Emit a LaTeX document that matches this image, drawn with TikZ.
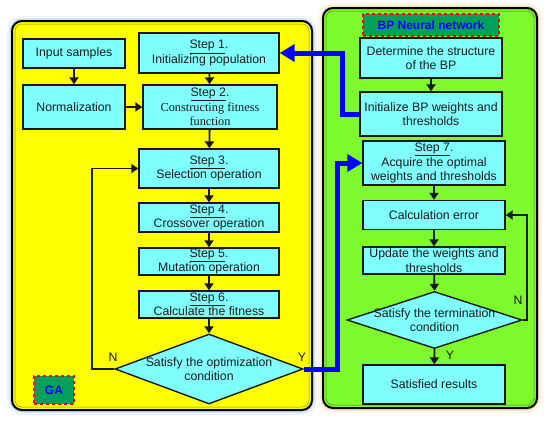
\documentclass[tikz,border=0pt]{standalone}
\usepackage{fontspec}
\setmainfont{Liberation Sans}
\newfontfamily\timesfont{Liberation Serif}
\usetikzlibrary{arrows.meta, shapes.geometric}
\definecolor{panelyellow}{RGB}{255, 255, 0}
\definecolor{panelgreen}{RGB}{125, 250, 45}
\definecolor{boxcyan}{RGB}{128, 255, 255}
\definecolor{tagteal}{RGB}{0, 160, 90}
\definecolor{flowblue}{RGB}{0, 0, 255}
\definecolor{inkdark}{RGB}{25, 25, 25}
\definecolor{glowblue}{RGB}{165, 200, 240}
\definecolor{gloworange}{RGB}{250, 205, 145}
% panel: x1, y1, x2, y2, fill, glow
\newcommand{\drawpanel}[6]{
    \draw[#6, line width=10pt, opacity=0.2, rounded corners=10pt] (#1, #2) rectangle (#3, #4);
    \draw[#6, line width=5pt, opacity=0.5, rounded corners=10pt] (#1, #2) rectangle (#3, #4);
    \draw[fill=#5, line width=2pt, rounded corners=10pt] (#1, #2) rectangle (#3, #4);
    \draw[#5!55!black, line width=0.5pt, rounded corners=7pt] (#1+3, #2+3) rectangle (#3-3, #4-3);
}

\begin{document}
\begin{tikzpicture}[x=1pt, y=-1pt, font=\fontsize{12.3}{14.5}\selectfont,
    box/.style={draw=inkdark, line width=1.4pt, fill=boxcyan, text=inkdark, align=center, inner sep=0pt},
    decision/.style={draw=inkdark, diamond, line width=1.4pt, fill=boxcyan, inner sep=0pt},
    arr/.style={-{Triangle[length=7pt, width=9pt]}, line width=1.8pt, inkdark},
    bluearr/.style={-{Triangle[length=15pt, width=17pt]}, line width=5pt, flowblue},
    tag/.style={draw=red, dashed, line width=1.5pt, fill=tagteal, text=flowblue, font=\bfseries\fontsize{12}{14}\selectfont}]
    \useasboundingbox (0, 0) rectangle (550, 421);

    % ----------------------------------------------------
    % Panels
    % ----------------------------------------------------
    \drawpanel{12}{21}{312}{410}{panelyellow}{glowblue}
    \drawpanel{323}{8}{537}{408}{panelgreen}{gloworange}

    \node[tag, minimum width=40pt, minimum height=28pt] (gatag) at (54, 390) {GA};
    \node[tag, minimum width=136pt, minimum height=22pt] (bptag) at (431, 25) {BP Neural network};

    % ----------------------------------------------------
    % GA side
    % ----------------------------------------------------
    \node[box, minimum width=102pt, minimum height=29pt] (inp) at (74, 53.5) {Input samples};
    \node[box, minimum width=102pt, minimum height=44pt] (norm) at (74, 107) {Normalization};
    \node[box, minimum width=140pt, minimum height=40pt] (s1) at (209, 53) {\underline{Step 1}.\\Initializing population};
    \node[box, minimum width=134pt, minimum height=44pt] (s2) at (210, 107) {\underline{Step 2}.\\{\timesfont Constructing fitness}\\{\timesfont function}};
    \node[box, minimum width=140pt, minimum height=39pt] (s3) at (209, 168.5) {\underline{Step 3}.\\Selection operation};
    \node[box, minimum width=140pt, minimum height=29pt] (s4) at (209, 217.5) {\underline{Step 4}.\\Crossover operation};
    \node[box, minimum width=140pt, minimum height=27pt] (s5) at (209, 261.5) {\underline{Step 5}.\\Mutation operation};
    \node[box, minimum width=140pt, minimum height=27pt] (s6) at (209, 304.5) {\underline{Step 6}.\\Calculate the fitness};
    \node[decision, minimum width=188pt, minimum height=70pt] (opt) at (209, 369) {};
    \node[align=center, text=inkdark] (optlbl) at (opt.center) {Satisfy the optimization\\condition};

    \draw[arr] (inp) -- (norm);
    \draw[arr] (norm) -- (s2);
    \draw[arr] (s1) -- (s2);
    \draw[arr] (s2) -- (s3);
    \draw[arr] (s3) -- (s4);
    \draw[arr] (s4) -- (s5);
    \draw[arr] (s5) -- (s6);
    \draw[arr] (s6) -- (opt.north);

    % N loop back to selection
    \coordinate (nloop) at (92, 0);
    \draw[arr] (opt.west) -- (opt.west -| nloop) |- (s3.west);
    \node[text=inkdark] (nleft) at (113, 357) {N};

    % ----------------------------------------------------
    % BP side
    % ----------------------------------------------------
    \node[box, minimum width=142pt, minimum height=40pt] (det) at (431, 58) {Determine the structure\\of the BP};
    \node[box, minimum width=142pt, minimum height=44pt] (ini) at (431, 114) {Initialize BP weights and\\thresholds};
    \node[box, minimum width=142pt, minimum height=44pt] (s7) at (434, 163) {\underline{Step 7}.\\Acquire the optimal\\weights and thresholds};
    \node[box, minimum width=142pt, minimum height=29pt] (calc) at (434, 215) {Calculation error};
    \node[box, minimum width=142pt, minimum height=27pt] (upd) at (434, 260.5) {Update the weights and\\thresholds};
    \node[decision, minimum width=175pt, minimum height=57pt] (term) at (434.5, 320) {};
    \node[align=center, text=inkdark] (termlbl) at (term.center) {Satisfy the termination\\condition};
    \node[box, minimum width=142pt, minimum height=39pt] (sat) at (434, 384.5) {Satisfied results};

    \draw[arr] (det) -- (ini);
    \draw[arr] (s7) -- (calc);
    \draw[arr] (calc) -- (upd);
    \draw[arr] (upd) -- (term.north);
    \draw[arr] (term.south) -- (sat);

    % N loop back to error
    \coordinate (rloop) at (527, 0);
    \draw[arr] (term.east) -- (term.east -| rloop) |- (calc.east);
    \node[text=inkdark] (nright) at (518, 300) {N};
    \node[text=inkdark] (yright) at (450, 355) {Y};

    % ----------------------------------------------------
    % Links between GA and BP
    % ----------------------------------------------------
    \coordinate (upx) at (342, 0);
    \draw[bluearr] (ini.west) -- (ini.west -| upx) |- (s1.east);
    \coordinate (downx) at (337, 0);
    \draw[bluearr] (opt.east) -- (opt.east -| downx) |- (s7.west);
    \node[text=inkdark] (yleft) at (302, 357) {Y};

\end{tikzpicture}
\end{document}
